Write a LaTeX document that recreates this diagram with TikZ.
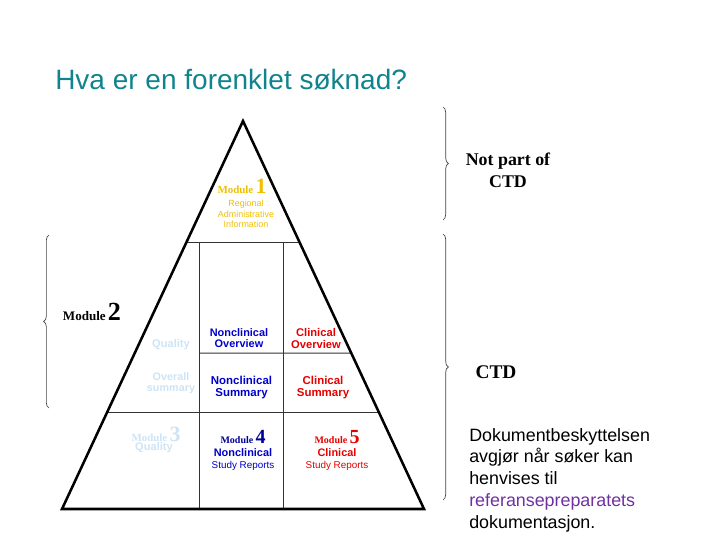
\documentclass[tikz,border=0pt]{standalone}
\usepackage{fontspec}
\setmainfont{Liberation Serif}
\newfontfamily\arial{Liberation Sans}
\usetikzlibrary{calc,decorations.pathreplacing}
\definecolor{titleteal}{RGB}{16,132,142}
\definecolor{modgold}{RGB}{240,192,0}
\definecolor{lightq}{RGB}{205,228,245}
\definecolor{ncblue}{RGB}{0,0,204}
\definecolor{navy}{RGB}{0,0,150}
\definecolor{clred}{RGB}{230,0,0}
\definecolor{refpurple}{RGB}{112,48,160}
\tikzset{
  x=0.75pt, y=-0.75pt,
  outline/.style={line width=1.9pt, line join=miter},
  inner/.style={line width=0.75pt, black!80},
  bracestyle/.style={decorate, decoration={brace, amplitude=4pt}, line width=0.5pt, black!75},
  lbl/.style={inner sep=0pt, align=center},
}
\newcommand{\modtext}[2]{{\bfseries\fontsize{#1}{#1}\selectfont Module}\,{\bfseries\fontsize{\dimexpr 2\dimexpr #1pt\relax\relax}{16}\selectfont #2}}
\begin{document}
\begin{tikzpicture}
\useasboundingbox (0,0) rectangle (720,540);
% title
\node[lbl, anchor=west, text=titleteal, font=\arial\fontsize{21}{24}\selectfont] (title) at (55,80) {Hva er en forenklet søknad?};
% triangle
\coordinate (A) at (243,121);
\coordinate (BL) at (62,509);
\coordinate (BR) at (424,509);
\coordinate (L1) at ($(A)!0.3144!(BL)$);
\coordinate (R1) at ($(A)!0.3144!(BR)$);
\coordinate (R2) at ($(A)!0.598!(BR)$);
\coordinate (L3) at ($(A)!0.75!(BL)$);
\coordinate (R3) at ($(A)!0.75!(BR)$);
\coordinate (V1t) at (199,243);
\coordinate (V1b) at (199,509);
\coordinate (V2t) at (283,243);
\coordinate (V2b) at (283,509);
\coordinate (M2l) at (199,353);
\draw[inner] (L1) -- (R1);
\draw[inner] (L3) -- (R3);
\draw[inner] (M2l) -- (R2);
\draw[inner] (V1t) -- (V1b);
\draw[inner] (V2t) -- (V2b);
\draw[outline] (BL) -- (A) -- (BR) -- cycle;
% module 1
\node[lbl, text=modgold] (m1) at (242,186) {\modtext{8.2}{1}};
\node[lbl, text=modgold, font=\arial\fontsize{6.7}{7.9}\selectfont] (m1t) at (246,214) {Regional\\Administrative\\Information};
% module 2 area
\node[lbl, text=lightq, font=\arial\bfseries\fontsize{8.3}{8.5}\selectfont] (q) at (171,345) {Quality};
\node[lbl, text=lightq, font=\arial\bfseries\fontsize{8.1}{8.5}\selectfont] (os) at (171,383) {Overall\\summary};
\node[lbl, text=ncblue, font=\arial\bfseries\fontsize{8.2}{8.3}\selectfont] (nco) at (239,338.5) {Nonclinical\\Overview};
\node[lbl, text=clred, font=\arial\bfseries\fontsize{8.4}{8.3}\selectfont] (clo) at (316,338.5) {Clinical\\Overview};
\node[lbl, text=ncblue, font=\arial\bfseries\fontsize{8.6}{8.8}\selectfont] (ncs) at (241.5,387.5) {Nonclinical\\Summary};
\node[lbl, text=clred, font=\arial\bfseries\fontsize{8.6}{8.8}\selectfont] (cls) at (323,387.5) {Clinical\\Summary};
% module 3
\node[lbl, text=lightq] (m3) at (156,434) {\modtext{8.2}{3}};
\node[lbl, text=lightq, font=\arial\bfseries\fontsize{8.3}{8.5}\selectfont] (m3t) at (154,448) {Quality};
% module 4
\node[lbl, text=navy] (m4) at (243,437) {\modtext{7.5}{4}};
\node[lbl, text=ncblue, font=\arial\bfseries\fontsize{8.2}{9}\selectfont] (m4a) at (243,453) {Nonclinical};
\node[lbl, text=ncblue, font=\arial\fontsize{7.4}{8}\selectfont] (m4b) at (243,466) {Study Reports};
% module 5
\node[lbl, text=clred] (m5) at (337,437) {\modtext{7.5}{5}};
\node[lbl, text=clred, font=\arial\bfseries\fontsize{8.2}{9}\selectfont] (m5a) at (337,453) {Clinical};
\node[lbl, text=clred, font=\arial\fontsize{7.4}{8}\selectfont] (m5b) at (337,466) {Study Reports};
% module 2 label with brace
\coordinate (b1s) at (49,408);
\coordinate (b1e) at (49,235);
\draw[bracestyle] (b1s) -- (b1e);
\node[lbl] (m2) at (92,312) {\modtext{9.8}{2}};
% not part of CTD
\coordinate (b2s) at (443,107);
\coordinate (b2e) at (443,220);
\draw[bracestyle] (b2s) -- (b2e);
\node[lbl, font=\bfseries\fontsize{13.4}{16.5}\selectfont] (npc) at (508,170) {Not part of\\CTD};
% CTD
\coordinate (b3s) at (443,234);
\coordinate (b3e) at (443,500);
\draw[bracestyle] (b3s) -- (b3e);
\node[lbl, font=\bfseries\fontsize{14.5}{14}\selectfont] (ctd) at (496,372) {CTD};
% paragraph
\node[lbl, anchor=north west, align=left, font=\arial\fontsize{13.4}{16.3}\selectfont] (para) at (469,428) {Dokumentbeskyttelsen\\avgjør når søker kan\\henvises til\\\textcolor{refpurple}{referansepreparatets}\\dokumentasjon.};
\end{tikzpicture}
\end{document}
